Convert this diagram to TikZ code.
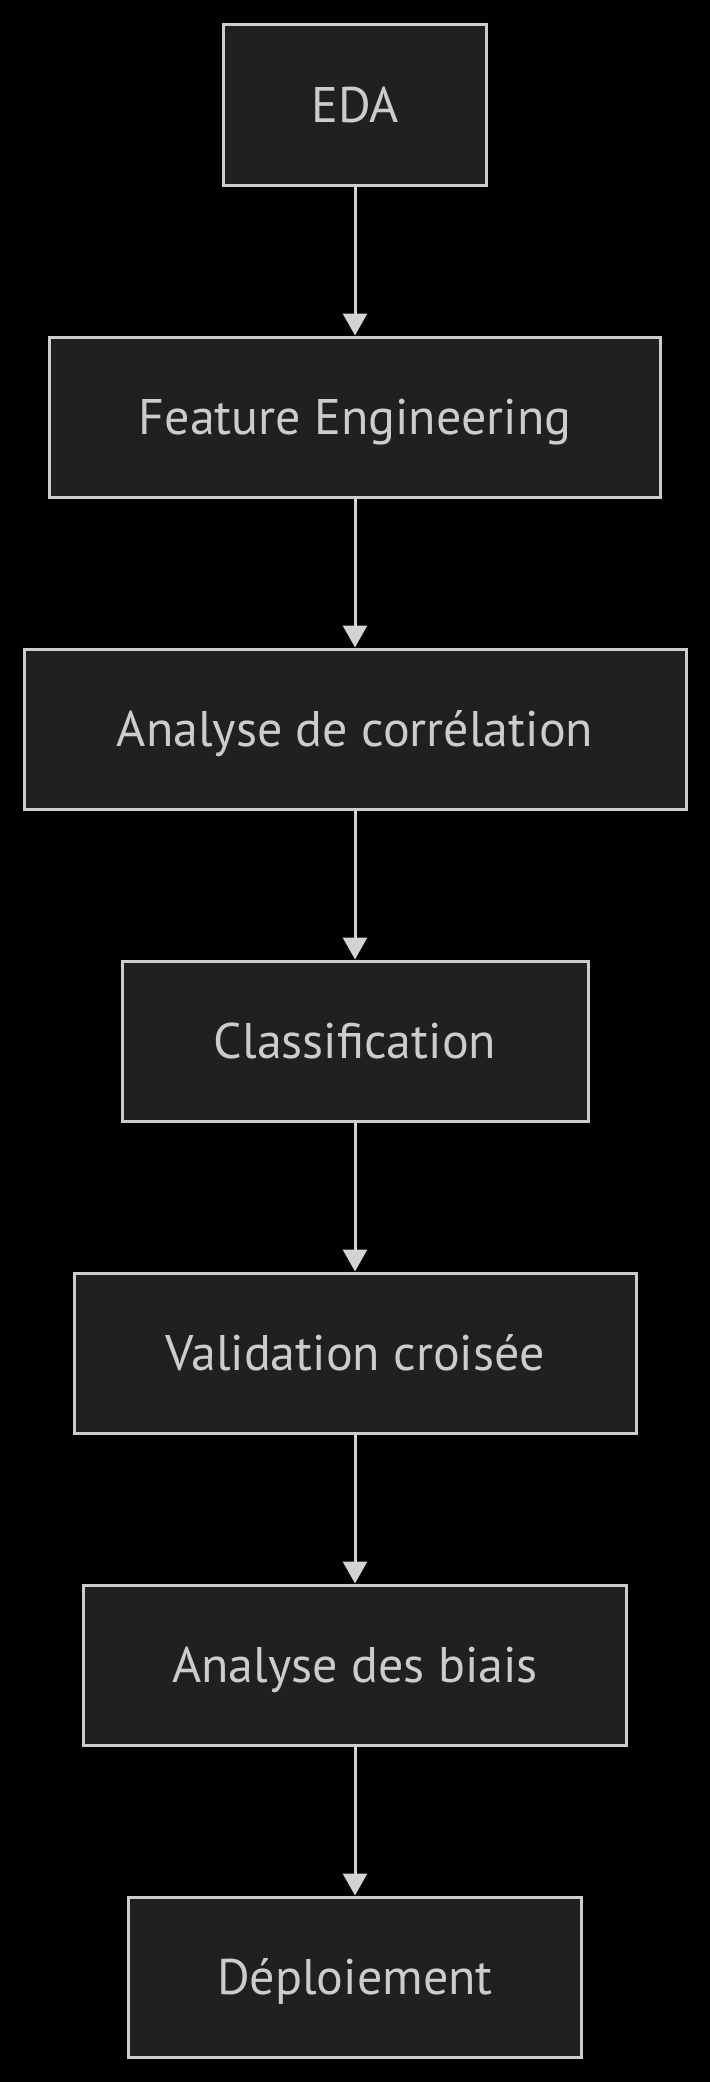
\documentclass[tikz,border=0pt]{standalone}
\usepackage{fontspec}
\setmainfont{PT Sans}
\usetikzlibrary{arrows.meta, positioning}
\definecolor{boxFill}{HTML}{1F2020}
\definecolor{boxLine}{HTML}{CCCCCC}
\definecolor{flowLine}{HTML}{D3D3D3}
\tikzstyle{stage} = [rectangle, minimum height=80pt, text centered, draw=boxLine, line width=1.5pt, fill=boxFill, text=boxLine, font=\fontsize{25}{29}\selectfont, text height=17.5pt, text depth=0pt]
\tikzstyle{flow} = [draw=flowLine, line width=1.5pt, -{Triangle[width=12pt, length=11pt, fill=flowLine]}]

\begin{document}
\begin{tikzpicture}[node distance=74.5pt]
				\useasboundingbox[fill=black] (0,0) rectangle (355pt,-1041pt);
				\node (eda) [stage, minimum width=131.5pt, anchor=north] at (177.5pt,-11.75pt) {EDA};
				\node (feat) [stage, minimum width=305.5pt, below=of eda] {Feature Engineering};
				\node (corr) [stage, minimum width=331pt, below=of feat] {Analyse de corrélation};
				\node (classif) [stage, minimum width=233pt, below=of corr] {Classification};
				\node (valid) [stage, minimum width=281pt, below=of classif] {Validation croisée};
				\node (biais) [stage, minimum width=271.5pt, below=of valid] {Analyse des biais};
				\node (deploy) [stage, minimum width=226.5pt, below=of biais] {Déploiement};
				
				\draw[flow] (eda) -- (feat);
				\draw[flow] (feat) -- (corr);
				\draw[flow] (corr) -- (classif);
				\draw[flow] (classif) -- (valid);
				\draw[flow] (valid) -- (biais);
				\draw[flow] (biais) -- (deploy);
			\end{tikzpicture}
\end{document}
